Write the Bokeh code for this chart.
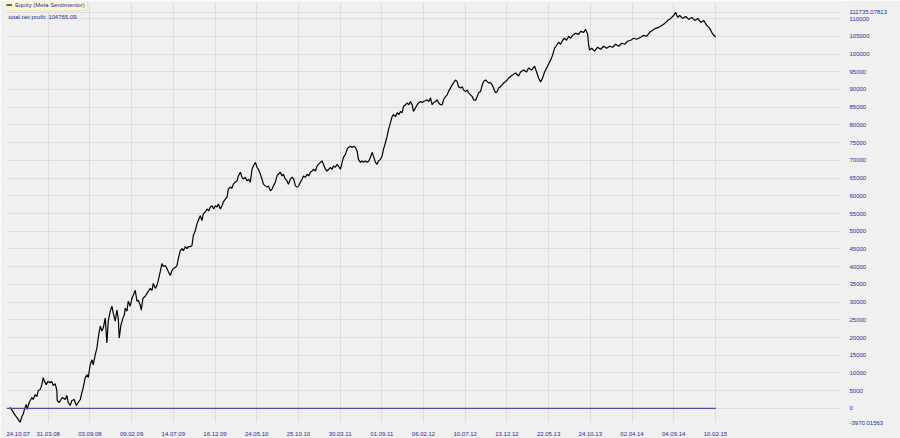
from bokeh.plotting import figure
from bokeh.models import (FixedTicker, CustomJSTickFormatter, Legend, LegendItem,
                          Label, Range1d)
from bokeh.embed import file_html
from bokeh.resources import INLINE

# ---- data (bar index, equity) ----
bars = [11, 26, 31, 35, 41, 46, 50, 53, 59, 62, 68, 76, 80, 86, 91, 95, 101, 106, 110, 113,
        119, 124, 131, 136, 140, 146, 151, 152, 158, 167, 176, 181, 185, 191, 196, 203, 209,
        215, 221, 226, 230, 236, 242, 245, 251, 256, 260, 266, 271, 275,
        281, 286, 290, 296, 301, 305, 311, 316, 320, 326, 331, 335, 338, 343, 349, 353, 356,
        361, 365, 371, 376, 380, 386, 391, 395, 401, 404, 409, 416, 421, 425, 431, 436, 440,
        446, 451, 455, 461, 466, 470, 476, 481, 485, 491, 496, 500, 506, 511, 515, 521, 526,
        530, 536, 541, 545,
        551, 556, 560, 566, 571, 575, 581, 586, 590, 596, 601, 606, 611, 616, 621, 626, 631,
        635, 641, 646, 650, 656, 661, 665, 671, 676, 680, 686, 691, 695, 701, 706, 710, 716,
        721, 726, 731, 736, 740, 746, 751, 755, 761, 766, 770, 776, 781, 785, 791, 796, 800,
        806, 811, 815, 821, 826, 830, 836, 841, 845, 851, 856, 861, 866, 871, 876, 881, 886,
        890, 896, 901, 906, 911, 916, 920, 926, 931, 935, 941, 946, 950, 956, 961, 966, 971,
        976, 980, 986, 991, 995, 1001, 1006, 1010, 1016, 1021, 1025, 1031, 1036, 1040, 1046,
        1051, 1055, 1061, 1066, 1070, 1076, 1081, 1086, 1091, 1096, 1100, 1106, 1111, 1115,
        1121, 1126, 1130, 1136, 1141, 1145, 1151, 1156, 1160, 1166, 1171, 1176, 1181, 1186,
        1190, 1196, 1201, 1206, 1211, 1216, 1220, 1226, 1231, 1236, 1241, 1246, 1250, 1256,
        1261, 1266, 1271, 1276, 1280, 1286, 1291, 1295, 1301, 1306, 1310, 1316, 1321, 1325,
        1331, 1336, 1340, 1346, 1351, 1355, 1361, 1366, 1370, 1376, 1381, 1385, 1391, 1396,
        1400, 1406, 1411, 1415, 1421, 1426, 1430, 1436, 1441, 1445, 1451, 1456, 1460, 1466,
        1471, 1475, 1481, 1486, 1490, 1496, 1501, 1505,
        1517, 1526, 1535, 1541, 1550, 1559, 1565, 1574, 1583, 1589, 1595, 1601, 1607, 1613,
        1619, 1625, 1631, 1637, 1643, 1649, 1655, 1661, 1667, 1673, 1679, 1685, 1691, 1697,
        1706, 1715, 1721, 1730, 1736, 1742, 1745, 1748, 1754, 1763, 1772, 1781, 1790, 1799,
        1808, 1817, 1826, 1835, 1844, 1853, 1862, 1871, 1880, 1889, 1901, 1910, 1919, 1928,
        1937, 1946, 1955, 1964, 1973, 1982, 1991, 2000, 2006, 2012, 2018, 2027, 2036, 2045,
        2054, 2063, 2072, 2081, 2090, 2099, 2108, 2114, 2120, 2126]

equity = [280, -1960, -2520, -3080, -3970.01563, -2240, -1680, -560, 1120, -280, 1680, 3080, 2520,
          3920, 3360, 5040, 5320, 6720, 8680, 7840, 6720, 7560, 7280, 7560, 6440, 7000, 5040,
          2240, 1680, 3080, 2520, 3640, 1680, 840, 2240, 2520, 840, 1680, 2520, 4480, 5880,
          8680, 9520, 8680, 12320, 13720, 12320, 15120, 17080, 19880,
          23240, 21840, 22680, 25480, 18480, 24640, 27440, 28840, 26880, 24640, 27720, 25480,
          19880, 23520, 25480, 26320, 28280, 27440, 30240, 28840, 31080, 31920, 33320, 30240,
          30520, 29120, 27720, 31080, 31640, 32480, 33040, 33880, 33320, 35280, 33880, 34720,
          36120, 38640, 40880, 40040, 40320, 39480, 38640, 37520, 38920, 39480, 39760, 40320,
          42280, 44520, 45080, 44520, 45640, 45080, 45640,
          45640, 46000, 48800, 50200, 52080, 53000, 54400, 53000, 54880, 55440, 56280, 55720,
          56840, 57200, 56280, 57200, 56840, 57680, 56280, 57200, 58240, 59080, 59640, 61880,
          62440, 62160, 63280, 63840, 64200, 65600, 66640, 65240, 64680, 65240, 64200, 64680,
          63840, 67480, 68400, 69440, 68040, 67480, 66080, 64680, 63280, 62800, 62440, 62800,
          61400, 61880, 62800,
          63840, 65600, 66080, 66640, 65600, 66080, 64680, 64200, 63280, 64680, 65240, 64680,
          62800, 62440, 62800, 63840, 64680, 65600, 65240, 66080, 65600, 66640, 67000, 67480,
          67000, 68400, 68880, 69440, 69800, 68880, 67480, 67000, 67480, 68040, 67480, 68400,
          68040, 68880, 68400, 67480, 69440, 70840, 71680, 73080, 73640, 74000, 73640, 74000,
          73640, 72600, 70280, 69440, 69800, 69440, 69800, 69440, 69800, 70840, 72240, 71200,
          69440, 68880, 69800, 70280, 71200, 73080, 75040, 76800, 78680, 80640, 82400, 82880,
          82320, 83440, 82880, 83800, 83440, 85200, 85680, 86240, 85680, 86600, 85680, 83800,
          84840, 85680, 86240, 86600, 86320, 86600, 86800, 87080, 86600, 87640, 85680, 86240,
          86600, 87080, 86240, 85680, 85680, 87080, 88000, 88480, 89400, 90440, 91280, 91840,
          92680, 92200, 90800, 90440, 90800, 89880, 89400, 89880, 89040, 88480, 88000, 87080,
          86880, 88000, 89040, 89400, 91280, 92200, 92680, 92200, 91840, 91840, 91280, 90440,
          89040, 89400, 90440, 90800, 91280, 91840, 92200, 92680, 93240,
          94080, 94640, 93800, 94920, 95480, 94920, 96040, 95480, 96600, 94920, 93240, 92120,
          93240, 94920, 96040, 97160, 98280, 99680, 101640, 102480, 103320, 102760, 103880,
          104440, 103880, 105000, 104440, 105280, 105840, 105560, 106400, 106120, 106960,
          105560, 102480, 101080, 101640, 100800, 101920, 101360, 102200, 101640, 102200,
          101920, 102760, 102200, 103040, 102760, 103600, 103880, 104440, 104160, 104720,
          105280, 105000, 106120, 106680, 107240, 107520, 108080, 108640, 109480, 110040,
          110880, 111735.07813, 110320, 110880, 110040, 110600, 109760, 110320, 109480,
          110040, 108920, 109480, 108080, 107240, 106120, 105280, 104765.09]

date_labels = ["24.10.07", "31.03.08", "03.09.08", "09.02.09", "14.07.09", "16.12.09",
               "24.05.10", "25.10.10", "30.03.11", "01.09.11", "06.02.12", "10.07.12",
               "13.12.12", "22.05.13", "24.10.13", "02.04.14", "04.09.14", "10.02.15"]
date_ticks = [35, 125, 250, 375, 500, 625, 750, 875, 1000, 1125, 1250, 1375, 1500,
              1625, 1750, 1875, 2000, 2125]
grid_ticks = [0, 125, 250, 375, 500, 625, 750, 875, 1000, 1125, 1250, 1375, 1500,
              1625, 1750, 1875, 2000, 2125]

y_min = min(equity)
y_max = max(equity)
y_ticks = [y_min] + list(range(0, 110001, 5000)) + [y_max]
net_profit = equity[-1]

FONT = "Liberation Sans"
TXT = "#2a2a96"
BG = "#f0f0f0"
GRID = "#dcdcdc"

# layout: panel frame runs from the top of the window (y=2) down to y=425;
# the min/max values sit at y=425 and y=12, leaving a 10px header strip.
W, H = 900, 438
TOP, BOTTOM = 2, 13
frame_h = H - TOP - BOTTOM
data_px = frame_h - 10
y_top = y_max + 10.0 * (y_max - y_min) / data_px

p = figure(width=W, height=H, output_backend="svg", toolbar_location=None,
           x_range=Range1d(0, 2500), y_range=Range1d(y_min, y_top),
           x_axis_location="below", y_axis_location="right",
           min_border_left=6, min_border_right=60, min_border_top=TOP,
           min_border_bottom=BOTTOM,
           background_fill_color=BG, border_fill_color=BG, outline_line_color=None)

eq_line = p.line(bars, equity, color="black", line_width=1.2)
p.line([0, bars[-1]], [0, 0], color="#4c4ca8", line_width=1.3)

# axes
xa = p.xaxis[0]
xa.ticker = FixedTicker(ticks=date_ticks)
xa.major_label_overrides = {t: l for t, l in zip(date_ticks, date_labels)}
ya = p.yaxis[0]
ya.ticker = FixedTicker(ticks=y_ticks)
ya.formatter = CustomJSTickFormatter(code="""
    return (tick === Math.round(tick)) ? tick.toString() : tick.toFixed(5);
""")
for ax in (xa, ya):
    ax.axis_line_color = None
    ax.major_tick_line_color = None
    ax.minor_tick_line_color = None
    ax.major_label_text_font = FONT
    ax.major_label_text_font_size = "6px"
    ax.major_label_text_color = TXT
    ax.major_label_standoff = 3

p.xgrid.ticker = FixedTicker(ticks=grid_ticks)
p.xgrid.grid_line_color = GRID
p.ygrid.grid_line_color = GRID

legend = Legend(items=[LegendItem(label="Equity (Meta Sentimentor)", renderers=[eq_line])],
                location=(-3, frame_h - 12), orientation="vertical",
                label_text_font=FONT, label_text_font_size="6px", label_text_color=TXT,
                label_height=7, glyph_height=7, glyph_width=6, label_standoff=3,
                padding=2, margin=0, spacing=0,
                background_fill_color="#fbf7d6", background_fill_alpha=1.0,
                border_line_color="#dcd6b4", border_line_width=1)
p.add_layout(legend)

p.add_layout(Label(x=2, y=frame_h - 17, x_units="screen", y_units="screen",
                   text="total net profit: %.2f" % net_profit,
                   text_font=FONT, text_font_size="6px", text_color=TXT,
                   text_baseline="middle", text_align="left"))

open("out.html", "w").write(file_html(p, INLINE))
